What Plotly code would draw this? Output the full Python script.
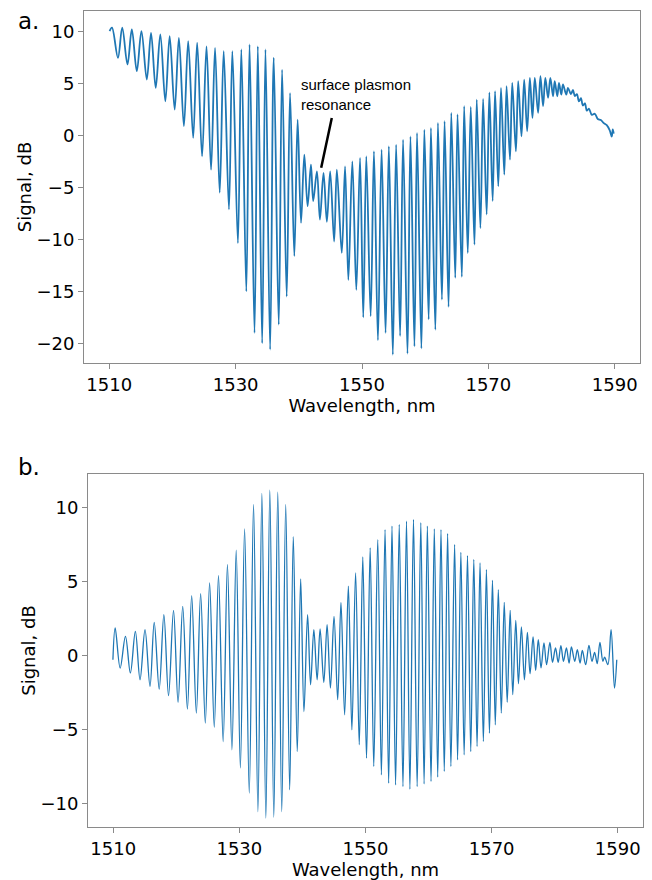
import plotly.graph_objects as go

# ---- data (extrema) ----
wl_a = [1510.05, 1510.43, 1511.37, 1512.05, 1512.88, 1513.57, 1514.36, 1515.09, 1515.94, 1516.61,
        1517.35, 1518.08, 1518.87, 1519.56, 1520.35, 1521.02, 1521.81, 1522.49, 1523.28, 1523.91,
        1524.69, 1525.39, 1526.11, 1526.74, 1527.48, 1528.11, 1528.94, 1529.48, 1530.36, 1530.90,
        1531.69, 1532.20, 1532.99, 1533.51, 1534.20, 1534.72, 1535.46, 1536.03, 1536.82, 1537.35,
        1538.08, 1538.61, 1539.29, 1539.81, 1540.35, 1540.87, 1541.39, 1541.92, 1542.28, 1542.87,
        1543.34, 1543.91, 1544.44, 1544.96, 1545.59, 1546.02, 1546.80, 1547.32, 1547.84, 1548.47,
        1549.10, 1549.69, 1550.20, 1550.68, 1551.37, 1551.89, 1552.52, 1553.10, 1553.73, 1554.25,
        1554.88, 1555.40, 1556.03, 1556.50, 1557.20, 1557.67, 1558.30, 1558.71, 1559.40, 1559.87,
        1560.55, 1560.91, 1561.61, 1562.02, 1562.65, 1563.07, 1563.70, 1564.13, 1564.76, 1565.12,
        1565.80, 1566.17, 1566.74, 1567.21, 1567.80, 1568.16, 1568.74, 1569.17, 1569.73, 1570.16,
        1570.68, 1571.06, 1571.57, 1572.00, 1572.52, 1572.88, 1573.42, 1573.78, 1574.36, 1574.72,
        1575.24, 1575.67, 1576.14, 1576.57, 1576.98, 1577.35, 1577.87, 1578.24, 1578.66, 1579.02,
        1579.45, 1579.81, 1580.24, 1580.50, 1580.91, 1581.18, 1581.54, 1581.81, 1582.33, 1582.60,
        1583.07, 1583.39, 1583.70, 1584.02, 1584.33, 1584.65, 1584.96, 1585.28, 1585.59, 1585.91,
        1586.38, 1586.85, 1587.32, 1587.80, 1588.27, 1588.74, 1589.21, 1589.53, 1589.69, 1589.84]
sig_a = [10.06, 10.39, 7.49, 10.39, 6.85, 10.22, 6.20, 10.06, 5.40, 9.90,
         4.60, 9.74, 3.31, 9.58, 2.50, 9.42, 0.90, 9.10, -0.22, 8.94,
         -2.00, 8.60, -3.28, 8.45, -5.50, 8.13, -7.10, 8.13, -10.35, 8.30,
         -15.00, 8.78, -19.00, 8.60, -20.00, 8.30, -20.60, 7.50, -18.20, 6.36,
         -15.50, 4.10, -11.60, 1.54, -8.40, -1.83, -6.80, -2.80, -6.30, -3.44,
         -8.10, -3.60, -8.30, -3.44, -10.20, -3.28, -11.30, -2.96, -13.90, -2.48,
         -14.85, -2.15, -17.50, -2.00, -17.40, -1.51, -19.70, -1.35, -19.00, -1.03,
         -21.10, -0.87, -19.30, -0.39, -21.00, -0.07, -20.30, 0.26, -20.50, 0.58,
         -17.70, 0.74, -18.70, 1.22, -15.80, 1.38, -16.50, 2.19, -13.70, 2.03,
         -13.60, 2.83, -11.30, 2.77, -10.50, 3.47, -8.90, 3.54, -7.60, 4.15,
         -6.30, 4.27, -4.89, 4.60, -3.76, 4.76, -2.31, 5.08, -1.51, 5.24,
         -0.07, 5.40, 0.42, 5.56, 1.71, 5.56, 2.19, 5.72, 2.83, 5.56,
         3.64, 5.56, 3.79, 5.24, 3.79, 5.08, 3.95, 4.92, 3.95, 4.60,
         4.00, 4.40, 3.80, 4.00, 3.30, 3.60, 2.90, 3.10, 2.40, 2.60,
         2.00, 2.10, 1.60, 1.50, 1.20, 1.00, 0.50, -0.10, 0.60, 0.20]

wl_b = [1509.95, 1510.31, 1511.10, 1511.94, 1512.72, 1513.51, 1514.25, 1515.04, 1515.83, 1516.50,
        1517.29, 1518.03, 1518.77, 1519.56, 1520.28, 1521.02, 1521.76, 1522.44, 1523.18, 1523.86,
        1524.60, 1525.28, 1526.02, 1526.69, 1527.43, 1528.11, 1528.82, 1529.50, 1530.16, 1530.83,
        1531.57, 1532.25, 1532.94, 1533.57, 1534.20, 1534.83, 1535.46, 1536.09, 1536.72, 1537.35,
        1537.98, 1538.55, 1539.18, 1539.72, 1540.24, 1540.82, 1541.29, 1541.81, 1542.33, 1542.80,
        1543.39, 1543.91, 1544.44, 1545.01, 1545.59, 1546.11, 1546.69, 1547.28, 1547.84, 1548.43,
        1549.01, 1549.57, 1550.16, 1550.74, 1551.31, 1551.94, 1552.52, 1553.10, 1553.67, 1554.20,
        1554.77, 1555.35, 1555.94, 1556.50, 1557.04, 1557.61, 1558.19, 1558.77, 1559.29, 1559.81,
        1560.39, 1560.91, 1561.45, 1561.97, 1562.49, 1563.02, 1563.54, 1564.13, 1564.60, 1565.12,
        1565.64, 1566.17, 1566.69, 1567.17, 1567.69, 1568.16, 1568.69, 1569.17, 1569.65, 1570.13,
        1570.58, 1571.06, 1571.53, 1572.00, 1572.47, 1572.94, 1573.35, 1573.83, 1574.25, 1574.72,
        1575.20, 1575.67, 1576.09, 1576.57, 1576.98, 1577.40, 1577.83, 1578.30, 1578.71, 1579.24,
        1579.65, 1580.13, 1580.55, 1580.98, 1581.39, 1581.86, 1582.28, 1582.65, 1583.18, 1583.59,
        1584.02, 1584.38, 1584.91, 1585.43, 1585.91, 1586.33, 1586.74, 1587.17, 1587.64, 1587.91,
        1588.43, 1588.94, 1589.48, 1589.84]
sig_b = [-0.27, 1.88, -0.84, 1.31, -1.17, 1.65, -1.63, 1.76, -2.08, 2.26,
         -2.26, 2.78, -2.71, 3.07, -3.16, 3.34, -3.62, 4.07, -3.89, 4.20,
         -4.56, 4.93, -4.84, 5.42, -5.81, 6.17, -6.37, 7.14, -7.60, 8.59,
         -9.31, 10.24, -10.56, 10.98, -11.00, 11.20, -10.94, 11.07, -10.56, 10.24,
         -9.08, 8.05, -6.49, 5.20, -3.78, 2.78, -1.97, 1.76, -1.63, 1.81,
         -1.81, 2.10, -2.19, 2.66, -2.98, 3.61, -4.00, 4.70, -5.02, 5.60,
         -6.03, 6.69, -6.94, 7.30, -7.50, 7.86, -8.07, 8.54, -8.63, 8.77,
         -8.75, 8.88, -8.86, 9.10, -9.04, 9.22, -8.86, 9.00, -8.68, 8.77,
         -8.52, 8.59, -8.22, 8.54, -7.84, 8.27, -7.50, 7.53, -7.05, 7.00,
         -6.71, 6.78, -6.49, 6.51, -6.15, 6.28, -5.81, 5.83, -5.24, 5.10,
         -4.68, 4.47, -3.89, 3.61, -3.16, 3.07, -2.64, 2.39, -1.90, 1.94,
         -1.63, 1.58, -1.22, 1.27, -1.00, 1.08, -0.83, 0.86, -0.61, 0.90,
         -0.45, 0.52, -0.45, 0.68, -0.38, 0.52, -0.50, 0.59, -0.38, 0.41,
         -0.50, 0.36, -0.61, 0.70, -0.38, 0.22, -0.54, 0.90, -0.38, -0.10,
         -0.61, 1.76, -2.19, -0.27]

x_ticks = [1510, 1530, 1550, 1570, 1590]
y_ticks_a = [-20, -15, -10, -5, 0, 5, 10]
y_ticks_b = [-10, -5, 0, 5, 10]

W, H = 652, 880
LINE = "#1f77b4"
FRAME = "#8a8a8a"
FS = 18
TICKFONT = dict(family="DejaVu Sans", size=FS, color="black")
TITLEFONT = dict(family="DejaVu Sans", size=FS, color="black")

fig = go.Figure()
fig.add_trace(go.Scatter(x=wl_a, y=sig_a, mode="lines", xaxis="x", yaxis="y",
                         line=dict(color=LINE, width=1.8, shape="spline", smoothing=1.0),
                         showlegend=False))
fig.add_trace(go.Scatter(x=wl_b, y=sig_b, mode="lines", xaxis="x2", yaxis="y2",
                         line=dict(color=LINE, width=1.3, shape="spline", smoothing=1.0),
                         showlegend=False))

def xax(domain, anchor):
    return dict(domain=domain, anchor=anchor, range=[1506, 1594], tickvals=x_ticks,
                showline=True, mirror=True, linecolor=FRAME, linewidth=1,
                ticks="outside", ticklen=5, tickcolor=FRAME, showgrid=False, zeroline=False,
                tickfont=TICKFONT,
                title=dict(text="Wavelength, nm", font=TITLEFONT, standoff=3))

def yax(domain, anchor, rng, tv):
    return dict(domain=domain, anchor=anchor, range=rng, tickvals=tv,
                showline=True, mirror=True, linecolor=FRAME, linewidth=1,
                ticks="outside", ticklen=5, tickcolor=FRAME, showgrid=False, zeroline=False,
                tickfont=TICKFONT,
                title=dict(text="Signal, dB", font=TITLEFONT, standoff=0))

fig.update_layout(
    width=W, height=H,
    margin=dict(l=0, r=0, t=0, b=0),
    paper_bgcolor="white", plot_bgcolor="white",
    xaxis=xax([84 / W, 640 / W], "y"),
    yaxis=yax([1 - 363 / H, 1 - 11 / H], "x", [-21.9, 12.0], y_ticks_a),
    xaxis2=xax([88 / W, 643 / W], "y2"),
    yaxis2=yax([1 - 827 / H, 1 - 474 / H], "x2", [-11.6, 12.3], y_ticks_b),
    annotations=[
        dict(text="a.", x=16 / W, y=1 - 21 / H, xref="paper", yref="paper", xanchor="left", yanchor="middle",
             showarrow=False, font=dict(family="DejaVu Sans", size=23, color="black")),
        dict(text="b.", x=16 / W, y=1 - 467 / H, xref="paper", yref="paper", xanchor="left", yanchor="middle",
             showarrow=False, font=dict(family="DejaVu Sans", size=23, color="black")),
        dict(text="surface plasmon<br>resonance", x=1540.1, y=3.95, xref="x", yref="y",
             xanchor="left", yanchor="middle", align="left", showarrow=False,
             font=dict(family="Liberation Sans", size=15, color="black")),
        dict(text="", x=1543.54, y=-3.09, ax=1545.27, ay=1.83, xref="x", yref="y", axref="x", ayref="y",
             showarrow=True, arrowhead=0, arrowwidth=2.5, arrowcolor="black"),
    ],
)

fig.write_html("out.html", config={"displayModeBar": False},
               post_script="document.body.style.margin='0';")
